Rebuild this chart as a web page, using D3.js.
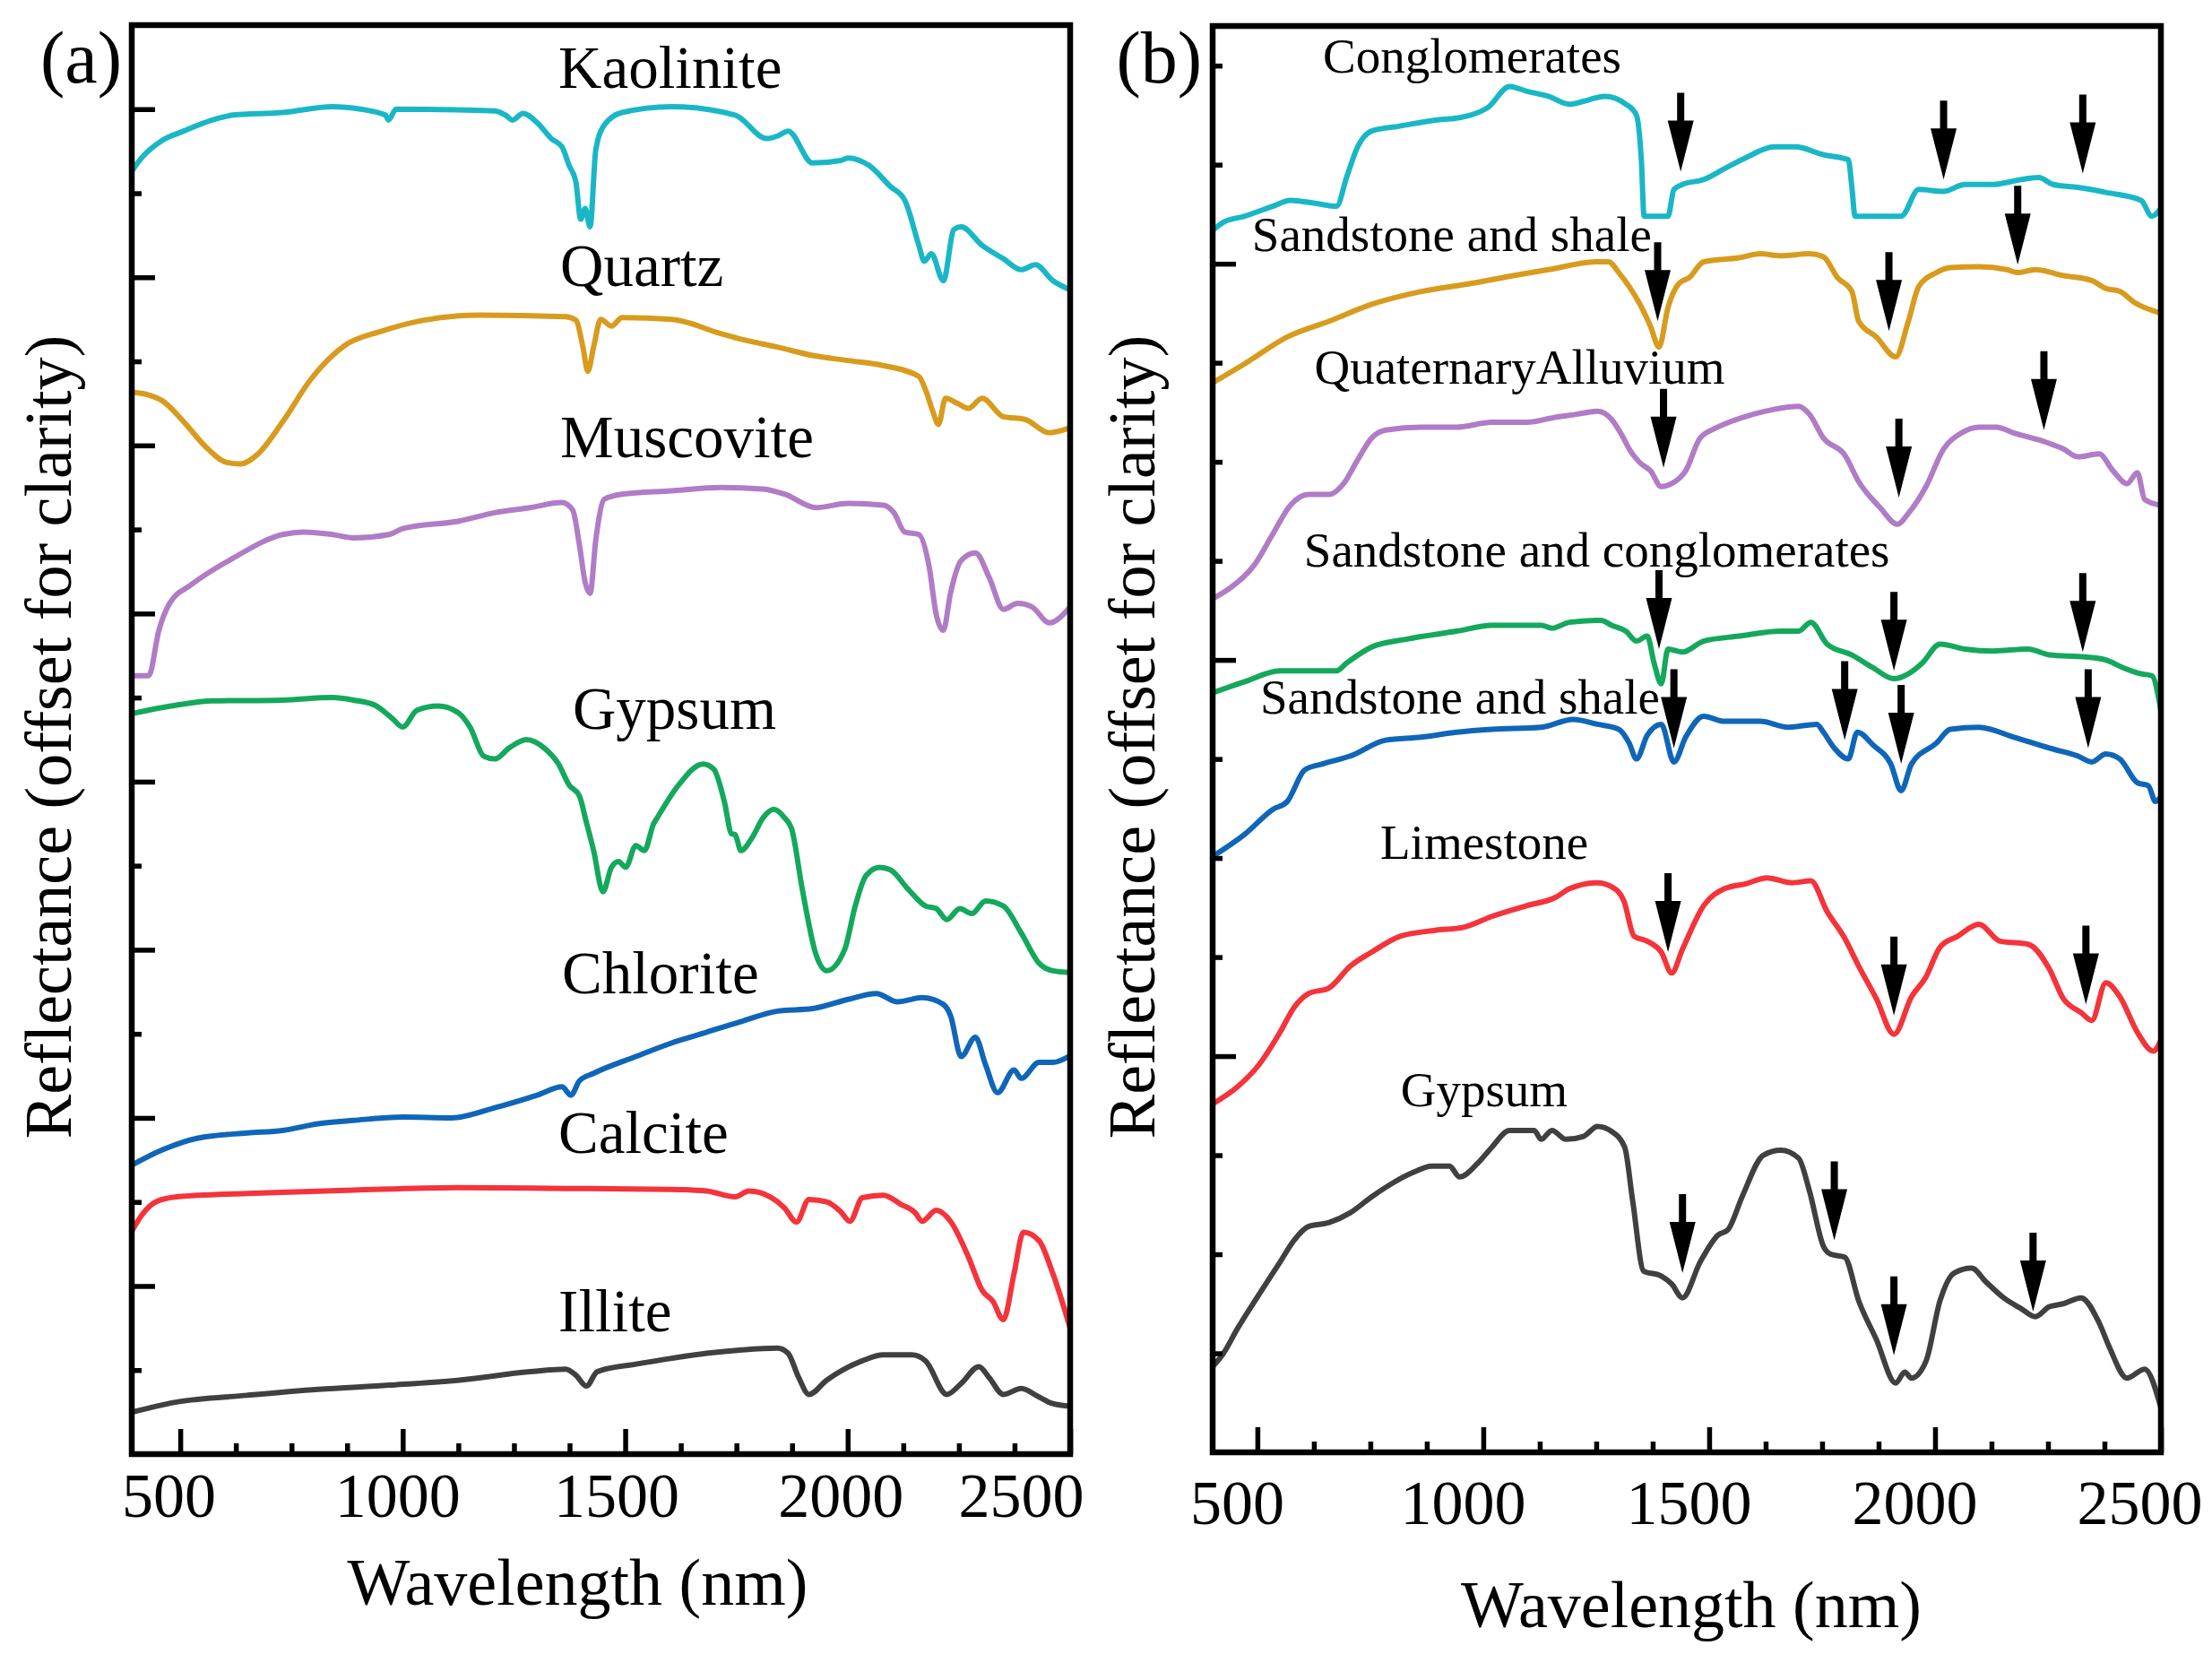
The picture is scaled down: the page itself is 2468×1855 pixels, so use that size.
<!DOCTYPE html>
<html>
<head>
<meta charset="utf-8">
<script src="https://cdn.jsdelivr.net/npm/d3@7"></script>
<style>
  body { margin: 0; background: #fff; }
  text { font-family: "Liberation Serif", "Times New Roman", serif; fill: #000; }
</style>
</head>
<body>
<svg id="chart" width="2468" height="1855"></svg>
<script>
// ---------- panel (a): mineral spectra ----------
var kaoliniteNm = [392,413,460,508,572,619,730,842,905,961,968,985,1207,1231,1247,1270,1302,1334,1358,1374,1389,1400,1410,1421,1434,1453,1493,1604,1747,1818,1842,1866,1921,1985,2001,2048,2096,2128,2160,2172,2188,2215,2239,2255,2302,2350,2390,2422,2461,2500];
var kaoliniteR  = [15.27,15.42,15.63,15.74,15.87,15.93,15.96,16.03,16.0,15.93,15.87,16.0,15.98,15.93,15.87,15.95,15.84,15.65,15.55,15.33,15.14,14.69,14.82,14.60,15.52,15.81,15.96,16.03,15.93,15.65,15.68,15.74,15.36,15.39,15.42,15.33,15.08,14.92,14.38,14.19,14.28,13.96,14.57,14.60,14.38,14.22,14.09,14.15,13.96,13.85];

var quartzNm = [397,429,460,508,556,603,635,675,730,794,873,953,1048,1175,1366,1389,1405,1416,1429,1445,1469,1493,1604,1715,1763,1842,1921,2001,2080,2160,2175,2191,2204,2220,2247,2271,2302,2350,2398,2453,2500];
var quartzR  = [12.63,12.60,12.53,12.28,11.99,11.80,11.78,11.90,12.28,12.79,13.20,13.36,13.49,13.55,13.53,13.49,13.17,12.88,13.17,13.50,13.42,13.52,13.50,13.33,13.26,13.17,13.07,13.01,12.95,12.82,12.66,12.41,12.25,12.56,12.50,12.44,12.56,12.34,12.31,12.15,12.21];

var muscoviteNm = [392,429,452,476,524,619,730,778,842,889,969,1000,1127,1207,1286,1358,1382,1397,1410,1421,1434,1453,1493,1604,1715,1810,1858,1929,2001,2080,2104,2128,2160,2183,2199,2215,2231,2255,2287,2318,2350,2382,2414,2453,2500];
var muscoviteR  = [9.26,9.26,9.80,10.12,10.34,10.66,10.94,10.97,10.94,10.90,10.94,11.01,11.10,11.20,11.26,11.32,11.23,10.82,10.37,10.24,10.88,11.36,11.42,11.46,11.50,11.48,11.42,11.26,11.31,11.29,11.20,10.97,10.94,10.56,9.99,9.80,10.24,10.63,10.72,10.43,10.05,10.12,10.08,9.89,10.08];

var gypsumANm = [392,492,572,730,842,889,937,977,1000,1032,1080,1127,1151,1183,1207,1239,1278,1318,1350,1374,1397,1413,1429,1450,1469,1485,1501,1524,1543,1564,1572,1620,1675,1699,1723,1739,1747,1760,1786,1810,1834,1858,1874,1898,1929,1953,1993,2017,2041,2072,2096,2136,2175,2199,2223,2252,2279,2310,2350,2390,2430,2461,2500];
var gypsumAR  = [8.81,8.91,8.96,8.97,9.00,8.97,8.91,8.75,8.65,8.85,8.90,8.81,8.65,8.30,8.27,8.40,8.50,8.40,8.21,7.96,7.83,7.51,7.18,6.69,6.98,7.05,6.98,7.24,7.18,7.50,7.57,7.96,8.21,8.15,7.76,7.38,7.37,7.18,7.34,7.57,7.67,7.57,7.44,6.72,5.94,5.75,6.00,6.52,6.88,6.98,6.95,6.72,6.52,6.49,6.36,6.49,6.43,6.58,6.52,6.20,5.84,5.75,5.73];

var chloriteNm = [392,460,540,651,730,810,889,1000,1111,1207,1302,1358,1378,1397,1429,1524,1604,1683,1763,1842,1921,2001,2064,2112,2167,2215,2231,2255,2287,2310,2337,2374,2390,2430,2461,2500];
var chloriteR  = [3.44,3.62,3.76,3.82,3.85,3.93,3.97,4.01,4.00,4.12,4.27,4.37,4.27,4.44,4.53,4.73,4.89,5.02,5.15,5.27,5.30,5.41,5.48,5.38,5.43,5.35,5.22,4.73,4.96,4.63,4.30,4.57,4.47,4.66,4.66,4.74];

var calciteNm = [392,413,445,492,651,889,1127,1366,1604,1683,1747,1778,1826,1858,1885,1913,1953,1985,2005,2033,2080,2120,2152,2167,2199,2231,2271,2302,2326,2350,2374,2395,2430,2461,2500];
var calciteR  = [2.66,2.84,3.00,3.06,3.10,3.14,3.17,3.16,3.15,3.13,3.06,3.13,3.06,2.93,2.76,3.03,3.00,2.88,2.77,3.05,3.08,2.97,2.87,2.77,2.90,2.77,2.35,1.95,1.82,1.60,2.15,2.64,2.54,2.15,1.50];

var illiteNm = [392,492,651,810,969,1127,1286,1366,1389,1413,1437,1524,1604,1683,1763,1842,1866,1890,1913,1953,2033,2080,2144,2175,2223,2255,2295,2318,2350,2390,2430,2461,2500];
var illiteR  = [0.50,0.62,0.70,0.77,0.82,0.88,0.98,1.01,0.94,0.81,0.98,1.07,1.14,1.20,1.24,1.26,1.20,0.91,0.71,0.88,1.11,1.18,1.18,1.11,0.71,0.84,1.04,0.91,0.71,0.78,0.68,0.60,0.57];

var labelsA   = ["Kaolinite","Quartz","Muscovite","Gypsum","Chlorite","Calcite","Illite"];
var labelANm  = [1350,1354,1354,1382,1358,1350,1350];
var labelAR   = [16.25,13.90,11.86,8.63,5.48,3.58,1.46];

// ---------- panel (b): rock units ----------
var conglomNm = [402,425,472,534,573,628,675,698,722,753,816,894,941,972,1011,1058,1097,1144,1191,1222,1269,1316,1339,1350,1356,1409,1422,1441,1488,1534,1581,1644,1691,1753,1808,1816,1823,1925,1964,2019,2066,2128,2191,2230,2261,2316,2378,2456,2480,2500];
var conglomR  = [12.34,12.42,12.48,12.58,12.64,12.61,12.58,12.88,13.18,13.34,13.39,13.45,13.47,13.50,13.58,13.79,13.74,13.69,13.61,13.64,13.69,13.61,13.50,13.04,12.48,12.48,12.75,12.80,12.85,12.96,13.07,13.18,13.18,13.10,13.05,12.77,12.48,12.48,12.75,12.73,12.80,12.80,12.85,12.87,12.80,12.77,12.72,12.64,12.48,12.56];

var sandShale1Nm = [402,472,566,659,753,863,972,1066,1144,1253,1277,1300,1323,1347,1370,1389,1409,1433,1456,1488,1566,1613,1659,1722,1753,1784,1816,1831,1870,1913,1941,1964,2003,2034,2097,2159,2183,2222,2284,2347,2378,2409,2441,2500];
var sandShale1R  = [10.80,10.99,11.26,11.42,11.59,11.72,11.80,11.88,11.94,12.02,12.02,11.91,11.77,11.59,11.37,11.16,11.56,11.80,11.86,12.02,12.06,12.10,12.08,12.10,12.07,11.86,11.72,11.42,11.26,11.06,11.42,11.77,11.91,11.96,11.97,11.94,11.91,11.94,11.88,11.83,11.75,11.72,11.61,11.50];

var alluviumNm = [402,441,495,534,573,613,659,691,722,753,784,863,941,1019,1097,1159,1206,1253,1284,1308,1323,1347,1370,1394,1417,1448,1480,1519,1597,1644,1698,1722,1753,1800,1831,1878,1917,1941,1980,2019,2058,2097,2136,2175,2238,2284,2316,2363,2394,2425,2448,2464,2500];
var alluviumR  = [8.62,8.73,8.97,9.27,9.56,9.67,9.67,9.78,10.02,10.24,10.32,10.35,10.35,10.40,10.40,10.45,10.48,10.51,10.43,10.26,10.13,9.99,9.91,9.75,9.78,9.91,10.24,10.35,10.48,10.53,10.56,10.48,10.24,10.07,9.80,9.54,9.37,9.48,9.75,10.13,10.29,10.35,10.35,10.29,10.21,10.13,10.05,10.08,9.91,9.78,9.89,9.62,9.56];

var sandConglomNm = [402,472,550,675,698,753,831,941,1019,1128,1152,1191,1261,1284,1316,1339,1363,1378,1394,1409,1441,1488,1566,1659,1698,1725,1761,1816,1863,1909,1941,1972,2011,2066,2128,2206,2253,2331,2378,2417,2456,2480,2500];
var sandConglomR  = [7.67,7.78,7.89,7.89,7.97,8.13,8.21,8.29,8.35,8.35,8.32,8.38,8.40,8.35,8.29,8.19,8.24,7.97,7.76,8.11,8.08,8.19,8.24,8.29,8.29,8.38,8.16,8.05,7.92,7.81,7.86,7.97,8.16,8.11,8.09,8.11,8.05,8.03,8.00,7.92,7.86,7.84,7.49];

var sandShale2Nm = [402,472,534,566,605,644,706,784,863,941,1019,1128,1199,1253,1300,1323,1339,1363,1394,1422,1448,1488,1534,1613,1675,1738,1753,1777,1808,1828,1863,1902,1925,1948,2003,2034,2097,2175,2253,2316,2347,2378,2409,2448,2472,2488,2500];
var sandShale2R  = [6.02,6.24,6.49,6.57,6.89,6.95,7.03,7.19,7.22,7.27,7.30,7.32,7.40,7.35,7.30,7.16,7.00,7.24,7.35,6.97,7.22,7.43,7.38,7.38,7.32,7.35,7.27,7.11,7.00,7.27,7.14,6.95,6.68,6.95,7.16,7.30,7.32,7.22,7.11,7.03,6.97,7.05,7.00,6.76,6.73,6.57,6.62];

var limestoneNm = [402,456,503,550,581,613,659,706,753,816,894,956,1019,1097,1159,1191,1253,1284,1311,1334,1363,1394,1417,1441,1488,1534,1581,1628,1683,1725,1761,1800,1831,1870,1909,1948,1980,2011,2050,2097,2144,2206,2253,2284,2323,2347,2378,2409,2448,2483,2500];
var limestoneR  = [3.52,3.69,3.91,4.24,4.49,4.63,4.69,4.91,5.05,5.21,5.27,5.30,5.41,5.52,5.60,5.69,5.75,5.71,5.57,5.21,5.16,5.05,4.84,5.08,5.52,5.69,5.74,5.80,5.75,5.77,5.46,5.19,4.91,4.58,4.22,4.60,4.80,5.10,5.21,5.33,5.16,5.13,4.88,4.58,4.44,4.36,4.74,4.60,4.24,4.05,4.16];

var gypsumBNm = [402,425,456,503,550,581,613,659,706,753,800,847,886,925,948,988,1019,1058,1113,1128,1152,1183,1222,1253,1284,1313,1331,1355,1394,1417,1441,1480,1519,1542,1573,1620,1659,1698,1722,1753,1769,1800,1831,1870,1913,1933,1948,1980,2011,2042,2081,2113,2152,2191,2222,2253,2284,2323,2363,2386,2425,2464,2500];
var gypsumBR  = [0.87,1.00,1.25,1.59,1.92,2.14,2.28,2.32,2.42,2.58,2.72,2.83,2.89,2.89,2.78,2.92,3.08,3.25,3.25,3.16,3.25,3.16,3.19,3.29,3.24,3.08,2.53,1.83,1.78,1.70,1.56,1.92,2.19,2.25,2.58,3.00,3.05,2.97,2.64,2.08,2.00,1.97,1.53,1.14,0.70,0.81,0.75,0.92,1.53,1.81,1.86,1.72,1.56,1.45,1.37,1.47,1.50,1.56,1.31,1.06,0.75,0.84,0.45];

var labelsB  = ["Conglomerates","Sandstone and shale","QuaternaryAlluvium","Sandstone and conglomerates","Sandstone and shale","Limestone","Gypsum"];
var labelBNm = [645,488,626,603,506,772,817];
var labelBR  = [13.93,12.13,10.79,8.94,7.46,5.99,3.49];

// absorption-feature arrows in (b): wavelength and tip height
var arrowNm  = [1437,2019,2327,1386,1898,2183,1399,1920,2241,1389,1909,2327,1422,1800,1925,2339,1409,1909,2334,1441,1777,1909,2217];
var arrowTip = [12.93,12.85,12.91,11.42,11.32,11.99,9.94,9.64,10.32,8.11,7.89,8.08,7.11,7.19,6.95,7.11,5.05,4.41,4.52,1.81,2.14,0.98,1.42];

var xMajor = [500,1000,1500,2000,2500];
var xMinor = [625,750,875,1125,1250,1375,1625,1750,1875,2125,2250,2375];

var colors = ["#19b7c6","#d89b1e","#b07cc6","#14a85c","#0f66b8","#f4333b","#404040"];

var svg = d3.select("#chart");

function drawPanel(p) {
  var x = d3.scaleLinear().domain(p.xDomain).range([p.left, p.right]);
  var y = d3.scaleLinear().domain(p.yDomain).range([p.bottom, p.top]);
  var g = svg.append("g");

  g.append("clipPath").attr("id", "clip" + p.id)
    .append("rect")
    .attr("x", p.left).attr("y", p.top)
    .attr("width", p.right - p.left).attr("height", p.bottom - p.top);

  var line = d3.line()
    .curve(d3.curveMonotoneX)
    .x(function(d) { return x(d[0]); })
    .y(function(d) { return y(d[1]); });

  p.series.forEach(function(s, i) {
    g.append("path")
      .datum(d3.zip(s[0], s[1]))
      .attr("clip-path", "url(#clip" + p.id + ")")
      .attr("fill", "none")
      .attr("stroke", colors[i])
      .attr("stroke-width", 6)
      .attr("stroke-linejoin", "round")
      .attr("stroke-linecap", "round")
      .attr("d", line);
  });

  // series labels
  p.labels.forEach(function(t, i) {
    g.append("text")
      .attr("x", x(p.labelNm[i]))
      .attr("y", y(p.labelR[i]))
      .attr("font-size", p.labelSize)
      .text(t);
  });

  // x axis: minor then major ticks, drawn inward
  var xMin = g.append("g").attr("transform", "translate(0," + p.bottom + ")")
    .call(d3.axisBottom(x).tickValues(xMinor).tickSize(-12).tickFormat(""));
  var xMaj = g.append("g").attr("transform", "translate(0," + p.bottom + ")")
    .call(d3.axisBottom(x).tickValues(xMajor).tickSize(-28).tickFormat(d3.format("d")));
  xMaj.selectAll("text")
    .attr("y", p.tickBase).attr("dy", null)
    .attr("dx", function(d, i) { return p.tickShift[i]; })
    .attr("font-size", 70)
    .attr("font-family", "Liberation Serif, Times New Roman, serif");

  // y axis: ticks only, no labels
  var yMin = g.append("g").attr("transform", "translate(" + p.left + ",0)")
    .call(d3.axisLeft(y).tickValues(p.yMinor).tickSize(-11).tickFormat(""));
  var yMaj = g.append("g").attr("transform", "translate(" + p.left + ",0)")
    .call(d3.axisLeft(y).tickValues(p.yMajor).tickSize(-26).tickFormat(""));

  [xMin, xMaj, yMin, yMaj].forEach(function(a) {
    a.select(".domain").remove();
    a.selectAll(".tick line").attr("stroke", "#000").attr("stroke-width", 5.5);
  });

  // frame
  g.append("rect")
    .attr("x", p.left).attr("y", p.top)
    .attr("width", p.right - p.left).attr("height", p.bottom - p.top)
    .attr("fill", "none").attr("stroke", "#000").attr("stroke-width", 6.5);

  // axis titles
  g.append("text")
    .attr("x", (p.left + p.right) / 2 + p.xTitleShift)
    .attr("y", p.xTitleBase)
    .attr("text-anchor", "middle")
    .attr("font-size", 74)
    .text("Wavelength (nm)");
  g.append("text")
    .attr("transform", "translate(" + p.yTitleX + ",822) rotate(-90)")
    .attr("text-anchor", "middle")
    .attr("font-size", 74)
    .text("Reflectance (offset for clarity)");

  // panel letter
  g.append("text")
    .attr("x", p.letterX).attr("y", 92)
    .attr("text-anchor", "end")
    .attr("font-size", 82)
    .text(p.letter);

  return { x: x, y: y, g: g };
}

var pa = drawPanel({
  id: "a", left: 147, right: 1194, top: 28, bottom: 1622,
  xDomain: [391, 2500], yDomain: [0, 17],
  yMajor: d3.range(2, 17, 2), yMinor: d3.range(1, 17, 2),
  series: [[kaoliniteNm, kaoliniteR], [quartzNm, quartzR], [muscoviteNm, muscoviteR],
           [gypsumANm, gypsumAR], [chloriteNm, chloriteR], [calciteNm, calciteR], [illiteNm, illiteR]],
  labels: labelsA, labelNm: labelANm, labelR: labelAR, labelSize: 67,
  tickBase: 70, tickShift: [-13, -6, -10, -8, -55],
  xTitleBase: 1790, xTitleShift: -26, yTitleX: 79, letter: "(a)", letterX: 136
});

var pb = drawPanel({
  id: "b", left: 1353, right: 2411, top: 29, bottom: 1620,
  xDomain: [401, 2500], yDomain: [0, 14.4],
  yMajor: [4, 8, 12], yMinor: [1, 2, 3, 5, 6, 7, 9, 10, 11, 13, 14],
  series: [[conglomNm, conglomR], [sandShale1Nm, sandShale1R], [alluviumNm, alluviumR],
           [sandConglomNm, sandConglomR], [sandShale2Nm, sandShale2R], [limestoneNm, limestoneR], [gypsumBNm, gypsumBR]],
  labels: labelsB, labelNm: labelBNm, labelR: labelBR, labelSize: 55,
  tickBase: 80, tickShift: [-23, -23, -23, -23, -24],
  xTitleBase: 1815, xTitleShift: 5, yTitleX: 1288, letter: "(b)", letterX: 1341
});

// arrows marking absorption features in (b)
pb.g.selectAll(".arrow")
  .data(d3.zip(arrowNm, arrowTip))
  .enter().append("path")
  .attr("class", "arrow")
  .attr("transform", function(d) { return "translate(" + pb.x(d[0]) + "," + pb.y(d[1]) + ")"; })
  .attr("d", "M0,0L-14.5,-57L-4,-57L-4,-88L4,-88L4,-57L14.5,-57Z")
  .attr("fill", "#000");
</script>
</body>
</html>
